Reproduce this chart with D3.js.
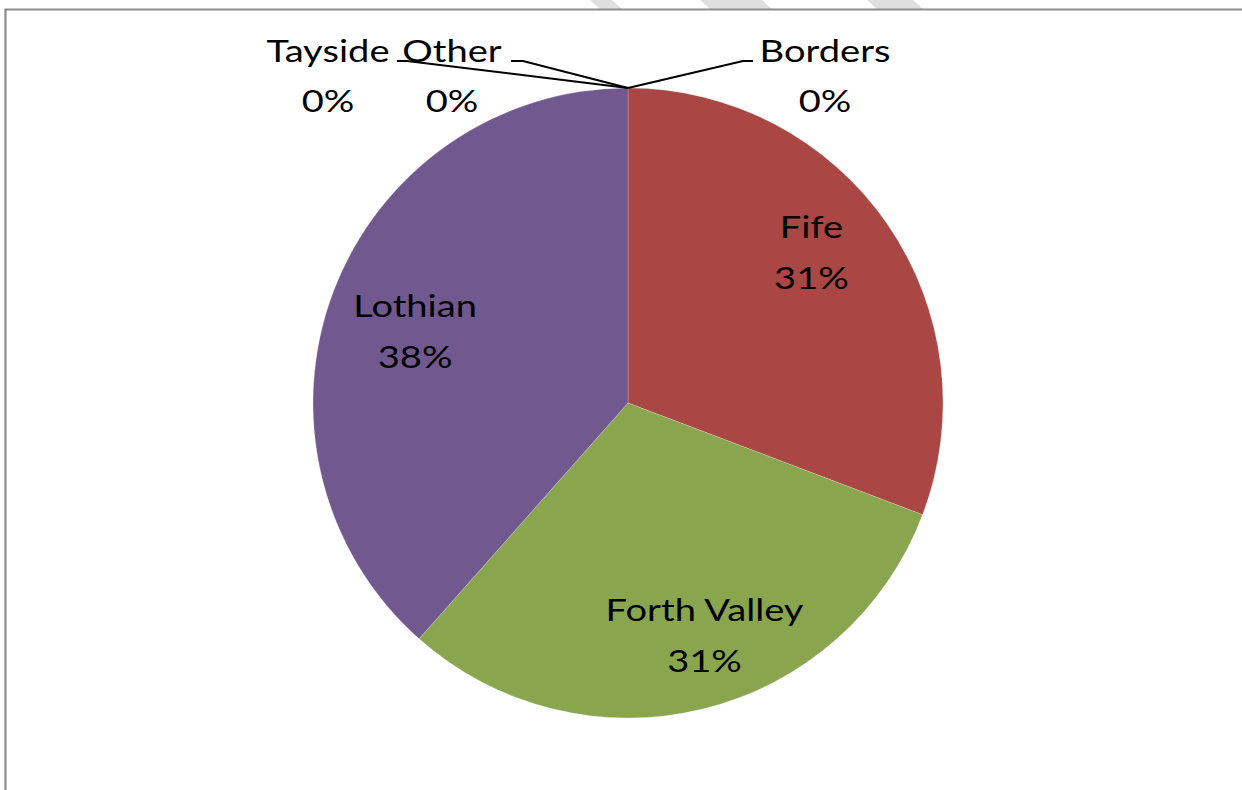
<!DOCTYPE html>
<html>
<head>
<meta charset="utf-8">
<script src="https://cdn.jsdelivr.net/npm/d3@7"></script>
<style>
  html, body { margin: 0; padding: 0; background: #fff; }
  svg { display: block; }
  text { font-family: Lato, "Open Sans", sans-serif; fill: #000; }
</style>
</head>
<body>
<svg id="chart" width="1242" height="790"></svg>
<script>
// Regions and their counts, in drawing order (clockwise from 12 o'clock)
const regions = ["Borders", "Fife", "Forth Valley", "Lothian", "Tayside", "Other"];
const counts  = [0, 4, 4, 5, 0, 0];
const sliceColors = ["#4572A7", "#AA4643", "#89A54E", "#71588F", "#4198AF", "#DB843D"];

const W = 1242, H = 790;
const cx = 628, cy = 403, R = 315;
const fs = 31.5, gap = 51, stretch = 1.21;

const svg = d3.select("#chart");

// faint diagonal stripes peeking above the frame
const stripes = [[590, 612], [700, 762], [867, 913]];
svg.append("g").selectAll("path").data(stripes).join("path")
  .attr("d", s => `M${s[0]},0L${s[1]},0L${s[1] + 10},9L${s[0] + 10},9Z`)
  .attr("fill", "#dfdfdf");

// chart frame (top and left edges)
svg.append("path")
  .attr("d", `M5.5,${H}L5.5,9.5L${W},9.5`)
  .attr("fill", "none")
  .attr("stroke", "#8c8c8c")
  .attr("stroke-width", 2.2);

const data = regions.map((r, i) => ({ region: r, value: counts[i], color: sliceColors[i] }));
const total = d3.sum(counts);
const pct = d3.format(".0%");

const pie = d3.pie().value(d => d.value).sort(null).startAngle(0).endAngle(2 * Math.PI);
const arcs = pie(data);
const arc = d3.arc().innerRadius(0).outerRadius(R);

const g = svg.append("g").attr("transform", `translate(${cx},${cy})`);

g.selectAll("path.slice").data(arcs.filter(a => a.data.value > 0)).join("path")
  .attr("class", "slice")
  .attr("d", arc)
  .attr("fill", d => d.data.color)
  .attr("stroke", "rgba(255,255,255,0.22)")
  .attr("stroke-width", 1);

// two-line label (name over percentage), widened like the chart's font
function twoLine(x, y1, y2, name, value) {
  const t = g.append("g").attr("transform", `translate(${x},0) scale(${stretch},1)`)
    .append("text").attr("text-anchor", "middle").style("font-size", fs + "px");
  t.append("tspan").attr("x", 0).attr("y", y1).text(name);
  t.append("tspan").attr("x", 0).attr("y", y2).text(value);
}

// inside labels for non-empty slices
const labelArc = d3.arc().innerRadius(R * 0.75).outerRadius(R * 0.75);
const nudge = { "Fife": [-11, -15], "Forth Valley": [20, 4], "Lothian": [8, 13] };

arcs.filter(a => a.data.value > 0).forEach(a => {
  const [x, y] = labelArc.centroid(a);
  const n = nudge[a.data.region] || [0, 0];
  const lx = x + n[0], ly = y + n[1];
  twoLine(lx, ly - gap / 2 + 10, ly + gap / 2 + 10, a.data.region, pct(a.data.value / total));
});

// outside labels with leader lines for empty slices
const outside = {
  "Borders": { x: 825, elbow: 743, tail: 753 },
  "Other":   { x: 452, elbow: 523, tail: 511 },
  "Tayside": { x: 328, elbow: 407, tail: 397 }
};
const elbowY = 61 - cy;

arcs.filter(a => a.data.value === 0).forEach(a => {
  const o = outside[a.data.region];
  const ang = a.startAngle;
  const sx = R * Math.sin(ang), sy = -R * Math.cos(ang);
  g.append("path")
    .attr("d", d3.line()([[sx, sy], [o.elbow - cx, elbowY], [o.tail - cx, elbowY]]))
    .attr("fill", "none")
    .attr("stroke", "#000")
    .attr("stroke-width", 2);
  twoLine(o.x - cx, 62 - cy, 112 - cy, a.data.region, pct(a.data.value / total));
});
</script>
</body>
</html>
